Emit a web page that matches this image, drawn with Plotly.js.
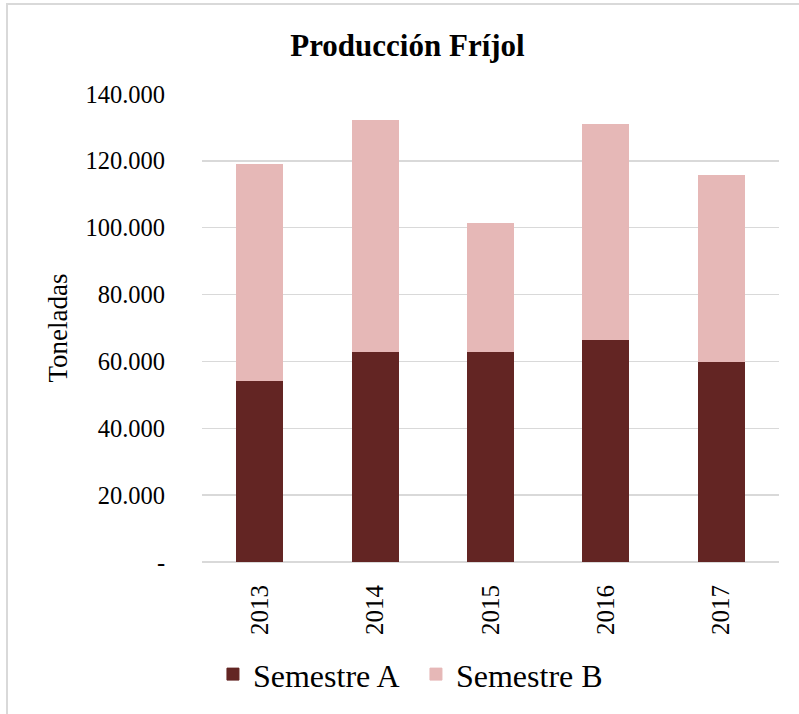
<!DOCTYPE html>
<html>
<head>
<meta charset="utf-8">
<script src="https://cdn.plot.ly/plotly-3.0.1.min.js"></script>
<style>
  html, body { margin: 0; padding: 0; background: #fff; }
  #frame { position: absolute; left: 6px; top: 3px; width: 820px; height: 740px; border-left: 2px solid #d9d9d9; border-top: 2px solid #d9d9d9; box-sizing: border-box; pointer-events: none; z-index: 5; }
  #chart { position: absolute; left: 0; top: 0; width: 799px; height: 714px; }
</style>
</head>
<body>
<div id="chart"></div>
<div id="frame"></div>
<script>
const years = ["2013", "2014", "2015", "2016", "2017"];
const semestreA = [54400, 62900, 63000, 66700, 60000];
const semestreB = [64600, 69300, 38400, 64300, 55500];
const tickValues = [0, 20000, 40000, 60000, 80000, 100000, 120000, 140000];
const tickLabels = ["-", "20.000", "40.000", "60.000", "80.000", "100.000", "120.000", "140.000"];

const serif = "Liberation Serif, Times New Roman, serif";

const traces = [
  { type: "bar", name: "Semestre A", x: years, y: semestreA, marker: { color: "#632523", line: { color: "#632523", width: 1 } }, hoverinfo: "y" },
  { type: "bar", name: "Semestre B", x: years, y: semestreB, marker: { color: "#E6B8B7", line: { color: "#E6B8B7", width: 1 } }, hoverinfo: "y" }
];

const layout = {
  width: 799, height: 714,
  barmode: "stack",
  bargap: 0.6,
  paper_bgcolor: "#fff", plot_bgcolor: "#fff",
  margin: { l: 202, r: 20, t: 94, b: 150 },
  title: { text: "<b>Producción Fríjol</b>", font: { family: serif, size: 31, color: "#000" }, x: 0.51, xanchor: "center", y: 0.937, yanchor: "middle" },
  xaxis: {
    type: "category", tickangle: -90, tickfont: { family: serif, size: 25, color: "#000" },
    showline: false, showgrid: false, ticks: "outside", ticklen: 12, tickcolor: "rgba(0,0,0,0)", automargin: false
  },
  yaxis: {
    range: [0, 140000], tickvals: tickValues, ticktext: tickLabels,
    tickfont: { family: serif, size: 24.5, color: "#000" },
    gridcolor: "#d9d9d9", gridwidth: 1.5, zeroline: true, zerolinecolor: "#d9d9d9", zerolinewidth: 1.5,
    showline: false, ticks: "outside", ticklen: 31, tickcolor: "rgba(0,0,0,0)", automargin: false,
    title: { text: "Toneladas", font: { family: serif, size: 27, color: "#000" }, standoff: 10 }
  },
  showlegend: true,
  legend: { orientation: "h", x: 0.019, xanchor: "left", y: -0.24, yanchor: "middle", font: { family: serif, size: 32, color: "#000" }, itemwidth: 30, entrywidth: 158, entrywidthmode: "pixels", traceorder: "normal" }
};

Plotly.newPlot("chart", traces, layout, { displayModeBar: false, staticPlot: true });
</script>
</body>
</html>
